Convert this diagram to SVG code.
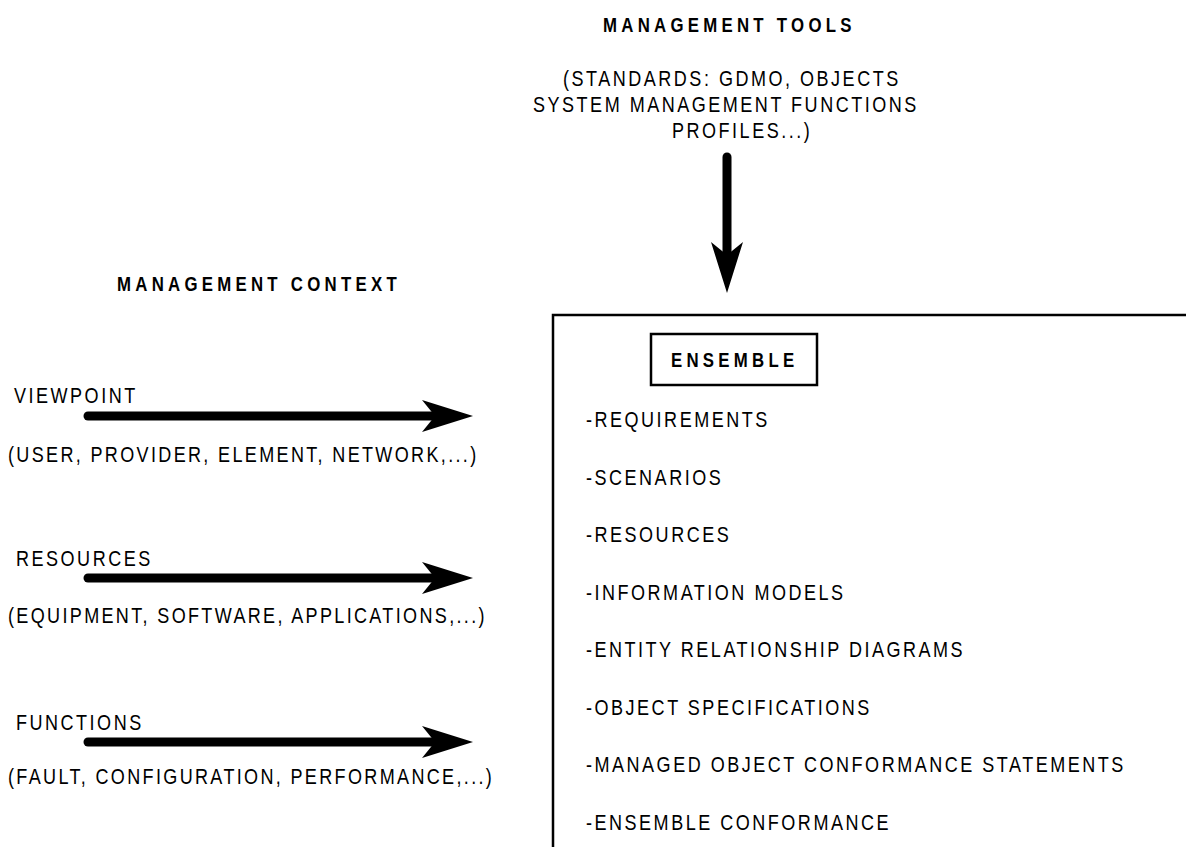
<svg xmlns="http://www.w3.org/2000/svg" width="1186" height="847" viewBox="0 0 1186 847">
  <style>
    text { font-family: "Liberation Sans", Arial, sans-serif; fill: #000; }
    .t { font-size: 22px; letter-spacing: 3.05px; }
    .s { letter-spacing: 2.85px; }
    .b { font-size: 20.5px; font-weight: bold; letter-spacing: 5.2px; }
    .shaft { stroke: #000; stroke-width: 9; stroke-linecap: round; fill: none; marker-end: url(#head); }
    .frame { fill: none; stroke: #000; stroke-width: 2.5; }
  </style>
  <defs>
    <marker id="head" markerUnits="userSpaceOnUse" markerWidth="52" markerHeight="33" refX="18" refY="16" orient="auto" overflow="visible">
      <path d="M0,0 L51,16 L0,32 L13,16 Z" fill="#000"/>
    </marker>
  </defs>

  <g id="management-tools">
    <text class="b" transform="translate(603,32) scale(0.82,1)">MANAGEMENT TOOLS</text>
    <text class="t" transform="translate(563,86) scale(0.82,1)">(STANDARDS: GDMO, OBJECTS</text>
    <text class="t" transform="translate(533,112) scale(0.82,1)">SYSTEM MANAGEMENT FUNCTIONS</text>
    <text class="t" transform="translate(672,138) scale(0.82,1)">PROFILES...)</text>
  </g>

  <g id="management-context">
    <text class="b" transform="translate(117,291) scale(0.82,1)">MANAGEMENT CONTEXT</text>
  </g>

  <g id="viewpoint">
    <text class="t" transform="translate(14,403) scale(0.82,1)">VIEWPOINT</text>
    <text class="t s" transform="translate(8,462) scale(0.82,1)">(USER, PROVIDER, ELEMENT, NETWORK,...)</text>
  </g>

  <g id="resources">
    <text class="t" transform="translate(16,566) scale(0.82,1)">RESOURCES</text>
    <text class="t s" transform="translate(8,623) scale(0.82,1)">(EQUIPMENT, SOFTWARE, APPLICATIONS,...)</text>
  </g>

  <g id="functions">
    <text class="t" transform="translate(16,730) scale(0.82,1)">FUNCTIONS</text>
    <text class="t s" transform="translate(8,784) scale(0.82,1)">(FAULT, CONFIGURATION, PERFORMANCE,...)</text>
  </g>

  <g id="ensemble">
    <path class="frame" d="M1186,315 H553 V847"/>
    <rect class="frame" x="651" y="334" width="166" height="51" stroke-width="2"/>
    <text class="b" transform="translate(671,367) scale(0.82,1)">ENSEMBLE</text>
    <text class="t" transform="translate(586,427) scale(0.82,1)">-REQUIREMENTS</text>
    <text class="t" transform="translate(586,484.5) scale(0.82,1)">-SCENARIOS</text>
    <text class="t" transform="translate(586,542) scale(0.82,1)">-RESOURCES</text>
    <text class="t" transform="translate(586,599.5) scale(0.82,1)">-INFORMATION MODELS</text>
    <text class="t" transform="translate(586,657) scale(0.82,1)">-ENTITY RELATIONSHIP DIAGRAMS</text>
    <text class="t" transform="translate(586,714.5) scale(0.82,1)">-OBJECT SPECIFICATIONS</text>
    <text class="t" transform="translate(586,772) scale(0.82,1)">-MANAGED OBJECT CONFORMANCE STATEMENTS</text>
    <text class="t" transform="translate(586,829.5) scale(0.82,1)">-ENSEMBLE CONFORMANCE</text>
  </g>

  <g id="connectors">
    <line class="shaft" x1="727" y1="157" x2="727" y2="260"/>
    <line class="shaft" x1="88" y1="416" x2="440" y2="416"/>
    <line class="shaft" x1="88" y1="578" x2="440" y2="578"/>
    <line class="shaft" x1="88" y1="742" x2="440" y2="742"/>
  </g>
</svg>
